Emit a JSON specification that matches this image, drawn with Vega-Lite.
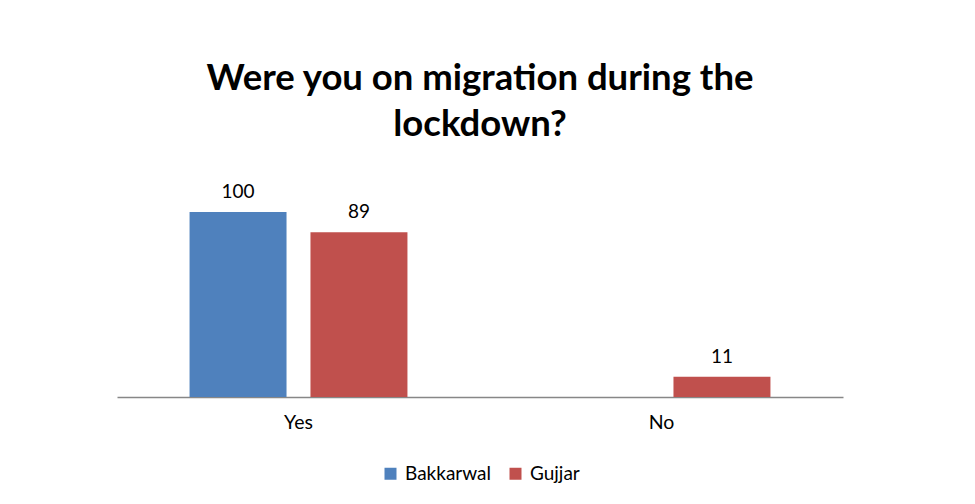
{
  "$schema": "https://vega.github.io/schema/vega-lite/v6.json",
  "autosize": {"type": "none"},
  "padding": {"left": 117, "top": 175, "right": 132, "bottom": 107},
  "width": 726,
  "height": 222,
  "background": "white",
  "config": {"view": {"stroke": null}, "font": "Lato"},
  "title": {
    "text": ["Were you on migration during the", "lockdown?"],
    "fontSize": 36.5,
    "fontWeight": "bold",
    "font": "Lato",
    "color": "black",
    "lineHeight": 46,
    "anchor": "middle",
    "offset": 32
  },
  "data": {
    "values": [
      {"answer": "Yes", "group": "Bakkarwal", "count": 100},
      {"answer": "Yes", "group": "Gujjar", "count": 89},
      {"answer": "No", "group": "Gujjar", "count": 11}
    ]
  },
  "encoding": {
    "x": {
      "field": "answer", "type": "nominal", "sort": ["Yes", "No"],
      "scale": {"paddingInner": 0, "paddingOuter": 0},
      "axis": {"title": null, "labelAngle": 0, "ticks": false, "labelFontSize": 19.5, "labelColor": "black", "labelFont": "Lato", "labelPadding": 16, "domainColor": "#878787", "domainWidth": 1.5}
    },
    "xOffset": {
      "field": "group", "type": "nominal", "sort": ["Bakkarwal", "Gujjar"],
      "scale": {"domain": ["Bakkarwal", "Gujjar"], "paddingInner": 0.198, "paddingOuter": 0.6}
    },
    "y": {
      "field": "count", "type": "quantitative",
      "scale": {"domain": [0, 120]},
      "axis": null
    }
  },
  "layer": [
    {
      "mark": {"type": "bar"},
      "encoding": {
        "color": {
          "field": "group", "type": "nominal",
          "scale": {"domain": ["Bakkarwal", "Gujjar"], "range": ["#4F81BD", "#C0504D"]},
          "legend": {
            "title": null, "orient": "none", "direction": "horizontal",
            "legendX": 264, "legendY": 289,
            "symbolType": "square", "symbolSize": 144, "symbolStrokeWidth": 0,
            "labelFontSize": 19, "labelFont": "Lato", "labelColor": "black",
            "columnPadding": 15, "labelOffset": 5
          }
        }
      }
    },
    {
      "mark": {"type": "text", "baseline": "bottom", "dy": -10, "fontSize": 19, "font": "Lato", "color": "black"},
      "encoding": {"text": {"field": "count", "type": "quantitative"}}
    }
  ]
}
